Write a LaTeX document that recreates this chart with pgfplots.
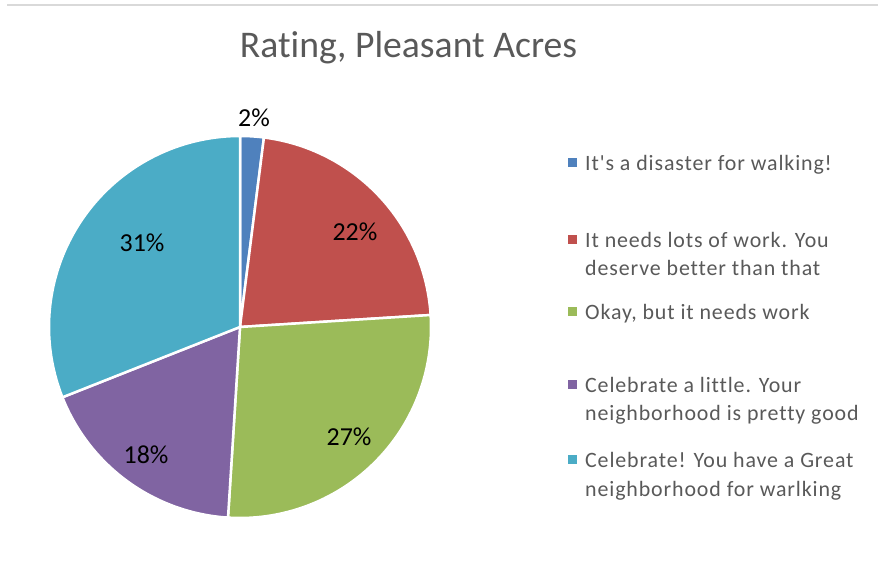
\documentclass[border=0pt]{standalone}
\usepackage{pgfplots}
\usepackage{pgfplotstable}
\usepackage{fontspec}
\setmainfont{Carlito}[RawFeature={-liga;-dlig;-clig}]
\newfontfamily\legfont[LetterSpace=4,RawFeature={-liga;-dlig;-clig}]{Carlito}
\pgfplotsset{compat=1.18}

\definecolor{cA}{HTML}{4F81BD}
\definecolor{cB}{HTML}{C0504D}
\definecolor{cC}{HTML}{9BBB59}
\definecolor{cD}{HTML}{8064A2}
\definecolor{cE}{HTML}{4BACC6}
\definecolor{txt}{HTML}{595959}

\pgfplotstableread{
share
2
22
27
18
31
}\piedata

% cumulative angles (clockwise from 12 o'clock)
\pgfplotstablegetelem{0}{share}\of\piedata\edef\sA{\pgfplotsretval}
\pgfplotstablegetelem{1}{share}\of\piedata\edef\sB{\pgfplotsretval}
\pgfplotstablegetelem{2}{share}\of\piedata\edef\sC{\pgfplotsretval}
\pgfplotstablegetelem{3}{share}\of\piedata\edef\sD{\pgfplotsretval}
\pgfplotstablegetelem{4}{share}\of\piedata\edef\sE{\pgfplotsretval}
\pgfmathsetmacro{\aO}{90}
\pgfmathsetmacro{\aA}{\aO-3.6*\sA}
\pgfmathsetmacro{\aB}{\aA-3.6*\sB}
\pgfmathsetmacro{\aC}{\aB-3.6*\sC}
\pgfmathsetmacro{\aD}{\aC-3.6*\sD}
\pgfmathsetmacro{\aE}{\aD-3.6*\sE}

\begin{document}
\begin{tikzpicture}[x=1bp,y=1bp]
\path[use as bounding box] (0,0) rectangle (878,578);
\draw[color=black!15, line width=2bp] (7,573) -- (878,573);

\node[anchor=base, text=txt, font=\fontsize{37.8}{44}\selectfont] at (408.5,520) {Rating, Pleasant Acres};

\begin{axis}[
  at={(240bp,251bp)}, anchor=center,
  scale only axis, width=382bp, height=382bp,
  xmin=-1, xmax=1, ymin=-1, ymax=1,
  hide axis, clip=false,
]
\addplot[fill=cA, draw=white, line width=2.5bp, domain=\aO:\aA, samples=20, variable=\t] ({cos(\t)},{sin(\t)}) -- (axis cs:0,0) -- cycle;
\addplot[fill=cB, draw=white, line width=2.5bp, domain=\aA:\aB, samples=60, variable=\t] ({cos(\t)},{sin(\t)}) -- (axis cs:0,0) -- cycle;
\addplot[fill=cC, draw=white, line width=2.5bp, domain=\aB:\aC, samples=60, variable=\t] ({cos(\t)},{sin(\t)}) -- (axis cs:0,0) -- cycle;
\addplot[fill=cD, draw=white, line width=2.5bp, domain=\aC:\aD, samples=60, variable=\t] ({cos(\t)},{sin(\t)}) -- (axis cs:0,0) -- cycle;
\addplot[fill=cE, draw=white, line width=2.5bp, domain=\aD:\aE, samples=80, variable=\t] ({cos(\t)},{sin(\t)}) -- (axis cs:0,0) -- cycle;

\node[font=\fontsize{26}{31}\selectfont] at (axis cs:0.073,1.094) {2\%};
\node[font=\fontsize{26}{31}\selectfont] at (axis cs:0.602,0.497) {22\%};
\node[font=\fontsize{26}{31}\selectfont] at (axis cs:0.571,-0.576) {27\%};
\node[font=\fontsize{26}{31}\selectfont] at (axis cs:-0.492,-0.670) {18\%};
\node[font=\fontsize{26}{31}\selectfont] at (axis cs:-0.513,0.440) {31\%};
\end{axis}

% legend
\begin{scope}[every node/.style={anchor=base west, text=txt, inner sep=0pt, font=\legfont\fontsize{22}{26}\selectfont}]
\fill[cA] (567.5,410.5) rectangle +(9,9);
\node at (585,407) {It\symbol{39}s a disaster for walking!};
\fill[cB] (567.5,333.5) rectangle +(9,9);
\node at (585,330) {It needs lots of work. You};
\node at (585,302) {deserve better than that};
\fill[cC] (567.5,261.5) rectangle +(9,9);
\node at (585,258) {Okay, but it needs work};
\fill[cD] (567.5,188.5) rectangle +(9,9);
\node at (585,185) {Celebrate a little. Your};
\node at (585,157) {neighborhood is pretty good};
\fill[cE] (567.5,113.5) rectangle +(9,9);
\node at (585,110) {Celebrate! You have a Great};
\node at (585,81) {neighborhood for warlking};
\end{scope}
\end{tikzpicture}
\end{document}
